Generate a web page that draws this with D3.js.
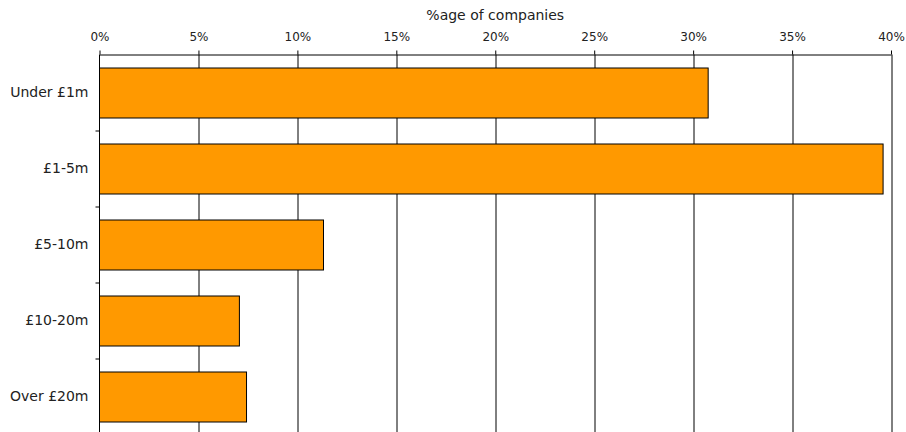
<!DOCTYPE html>
<html>
<head>
<meta charset="utf-8">
<script src="https://cdn.jsdelivr.net/npm/d3@7"></script>
<style>
  html, body { margin: 0; padding: 0; background: #fff; }
  svg { display: block; }
  text { font-family: "DejaVu Sans", Verdana, sans-serif; fill: #222; }
</style>
</head>
<body>
<svg id="chart" width="906" height="432"></svg>
<script>
// Turnover bands and share of companies in each (percent)
const categories = ["Under £1m", "£1-5m", "£5-10m", "£10-20m", "Over £20m"];
const shares = [30.76, 39.6, 11.32, 7.07, 7.43];
const xTicks = [0, 5, 10, 15, 20, 25, 30, 35, 40];
const xTitle = "%age of companies";

const svg = d3.select("#chart");
const margin = { top: 54.5, left: 99.5, right: 15, bottom: -2 };
const height = 432 - margin.top - margin.bottom;

const g = svg.append("g").attr("transform", `translate(${margin.left},${margin.top})`);

const x = d3.scaleLinear().domain([0, 40]).range([0, 791.5]);
const y = d3.scaleBand().domain(categories).range([0, height]).paddingInner(0.34).paddingOuter(0.17);

// vertical gridlines
g.append("g")
  .selectAll("line")
  .data(xTicks.slice(1))
  .join("line")
  .attr("x1", d => Math.round(x(d)) + 0.5)
  .attr("x2", d => Math.round(x(d)) + 0.5)
  .attr("y1", 0)
  .attr("y2", height)
  .attr("stroke", "#000")
  .attr("stroke-width", 1);

// bars
g.append("g")
  .selectAll("rect")
  .data(categories)
  .join("rect")
  .attr("x", 0)
  .attr("y", d => Math.round(y(d)) + 0.5)
  .attr("width", (d, i) => x(shares[i]))
  .attr("height", Math.round(y.bandwidth()))
  .attr("fill", "#FF9900")
  .attr("stroke", "#000")
  .attr("stroke-width", 1);

// top axis
const xAxis = g.append("g")
  .call(d3.axisTop(x).tickValues(xTicks).tickFormat(d => d + "%").tickSize(4).tickSizeOuter(0));
xAxis.select(".domain").attr("stroke", "#000");
xAxis.selectAll(".tick line").attr("stroke", "#000");
xAxis.selectAll(".tick text")
  .attr("y", -13.5)
  .style("font-family", "DejaVu Sans, Verdana, sans-serif")
  .style("font-size", "12px")
  .attr("fill", "#222");

// left axis with ticks at band boundaries
const yAxis = g.append("g");
yAxis.append("line")
  .attr("x1", 0).attr("x2", 0)
  .attr("y1", 0).attr("y2", height)
  .attr("stroke", "#000");
const boundaries = d3.range(1, categories.length).map(i => i * height / categories.length);
yAxis.selectAll("line.tick")
  .data(boundaries)
  .join("line")
  .attr("class", "tick")
  .attr("x1", -4).attr("x2", 0)
  .attr("y1", d => Math.round(d) + 0.5)
  .attr("y2", d => Math.round(d) + 0.5)
  .attr("stroke", "#000");

yAxis.selectAll("text")
  .data(categories)
  .join("text")
  .attr("x", -11)
  .attr("y", d => y(d) + y.bandwidth() / 2)
  .attr("dy", "0.35em")
  .attr("text-anchor", "end")
  .style("font-size", "14px")
  .text(d => d);

// axis title
svg.append("text")
  .attr("x", margin.left + x(20))
  .attr("y", 20)
  .attr("text-anchor", "middle")
  .style("font-size", "14px")
  .text(xTitle);
</script>
</body>
</html>
